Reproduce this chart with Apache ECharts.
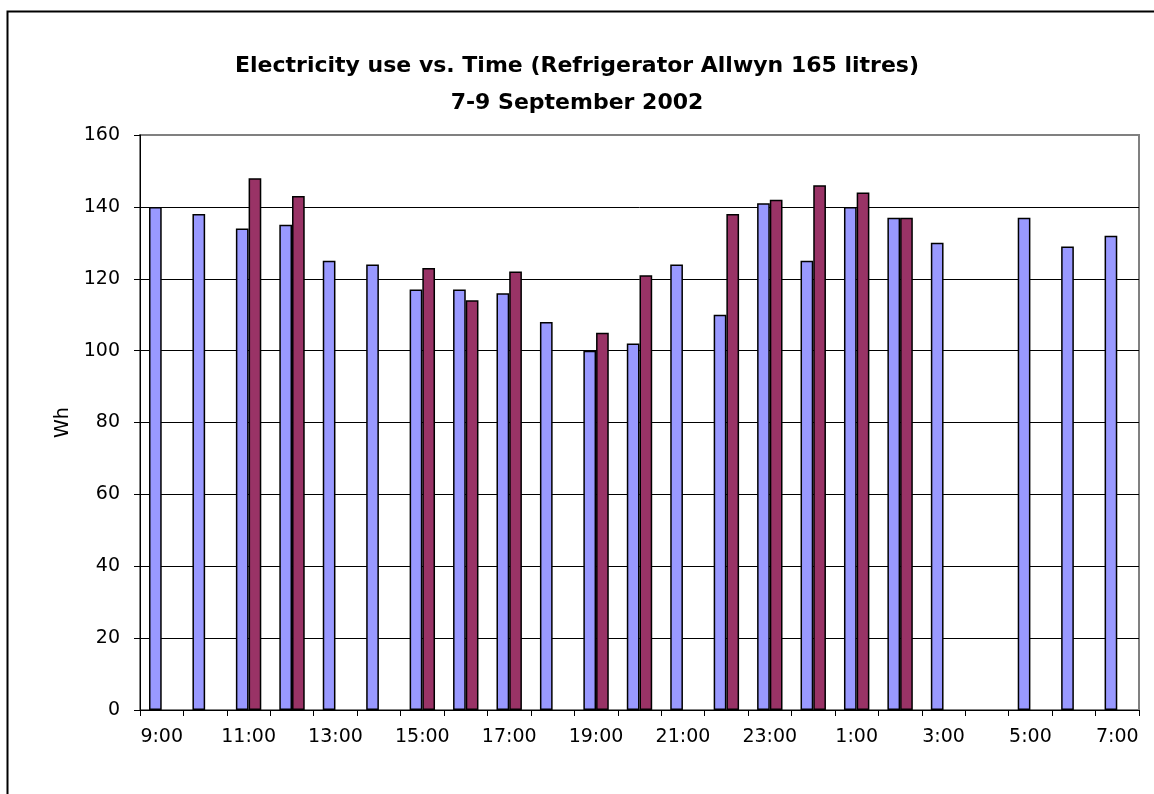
<!DOCTYPE html>
<html>
<head>
<meta charset="utf-8">
<script src="https://cdn.jsdelivr.net/npm/echarts@6/dist/echarts.min.js"></script>
<style>
html,body{margin:0;padding:0;background:#fff;}
#chart{width:1154px;height:794px;}
</style>
</head>
<body>
<div id="chart"></div>
<script>
const categories = ['9:00','10:00','11:00','12:00','13:00','14:00','15:00','16:00','17:00','18:00','19:00','20:00','21:00','22:00','23:00','0:00','1:00','2:00','3:00','4:00','5:00','6:00','7:00'];
const series1 = [140,138,134,135,125,124,117,117,116,108,100,102,124,110,141,125,140,137,130,null,137,129,132];
const series2 = [null,null,148,143,null,null,123,114,122,null,105,121,null,138,142,146,144,137,null,null,null,null,null];
const yTicks = [0,20,40,60,80,100,120,140,160];
const titleLines = ['Electricity use vs. Time (Refrigerator Allwyn 165 litres)', '7-9 September 2002'];

const titleStyle = {fontFamily: 'DejaVu Sans', fontWeight: 'bold', fontSize: 22, lineHeight: 26, color: '#000'};
const gridColors = yTicks.map(v => v === 160 ? '#808080' : '#000');

const chart = echarts.init(document.getElementById('chart'));
chart.setOption({
  animation: false,
  backgroundColor: '#fff',
  title: [
    {text: titleLines[0], left: 'center', top: 53, padding: 0, textStyle: titleStyle},
    {text: titleLines[1], left: 'center', top: 90, padding: 0, textStyle: titleStyle}
  ],
  graphic: [{
    type: 'rect', left: 5, top: 9, silent: true,
    shape: {width: 1200, height: 900},
    style: {fill: 'none', stroke: '#000', lineWidth: 2}
  }],
  grid: {left: 140, right: 15, top: 135, bottom: 84, show: true, borderColor: '#808080', borderWidth: 2, backgroundColor: 'transparent'},
  xAxis: {
    type: 'category',
    data: categories,
    axisLine: {lineStyle: {color: '#000', width: 1}},
    axisTick: {show: true, interval: 0, length: 6, lineStyle: {color: '#000'}},
    axisLabel: {interval: 1, margin: 18, fontFamily: 'DejaVu Sans', fontSize: 19, color: '#000'}
  },
  yAxis: {
    type: 'value',
    min: 0, max: 160, interval: 20,
    name: 'Wh',
    nameLocation: 'middle',
    nameGap: 66,
    nameRotate: 90,
    nameTextStyle: {fontFamily: 'DejaVu Sans', fontSize: 19, color: '#000'},
    axisLine: {show: true, lineStyle: {color: '#000', width: 1}},
    axisTick: {show: true, length: 6, lineStyle: {color: '#000'}},
    axisLabel: {margin: 20, fontFamily: 'DejaVu Sans', fontSize: 19, color: '#000',
      formatter: v => yTicks.includes(v) ? String(v) : ''},
    splitLine: {show: true, lineStyle: {color: gridColors, width: 1}}
  },
  series: [
    {type: 'bar', data: series1, barGap: '0%', barCategoryGap: '41.5%',
     itemStyle: {color: '#9999FF', borderColor: '#000', borderWidth: 1.5}},
    {type: 'bar', data: series2, barGap: '0%', barCategoryGap: '41.5%',
     itemStyle: {color: '#993366', borderColor: '#000', borderWidth: 1.5}}
  ]
});
</script>
</body>
</html>
